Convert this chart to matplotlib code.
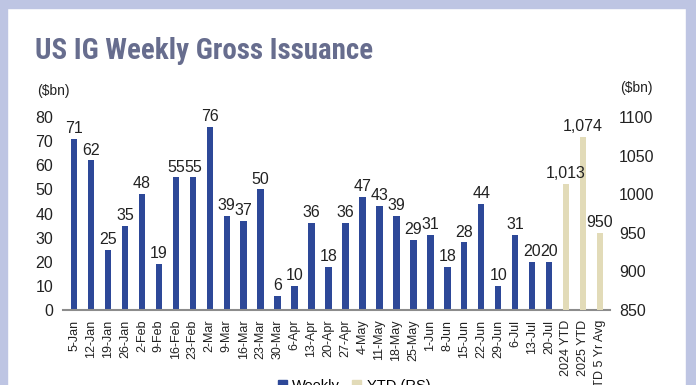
import matplotlib
matplotlib.use("Agg")
import matplotlib.pyplot as plt
from matplotlib.patches import Rectangle, Patch
from matplotlib import font_manager
from matplotlib.font_manager import FontProperties

weeks = ["5-Jan", "12-Jan", "19-Jan", "26-Jan", "2-Feb", "9-Feb", "16-Feb", "23-Feb",
         "2-Mar", "9-Mar", "16-Mar", "23-Mar", "30-Mar", "6-Apr", "13-Apr", "20-Apr",
         "27-Apr", "4-May", "11-May", "18-May", "25-May", "1-Jun", "8-Jun", "15-Jun",
         "22-Jun", "29-Jun", "6-Jul", "13-Jul", "20-Jul"]
weekly = [71, 62, 25, 35, 48, 19, 55, 55, 76, 39, 37, 50, 6, 10, 36, 18, 36, 47, 43,
          39, 29, 31, 18, 28, 44, 10, 31, 20, 20]
ytd_labels = ["2024 YTD", "2025 YTD", "YTD 5 Yr Avg"]
ytd = [1013, 1074, 950]

left_ticks = list(range(0, 81, 10))
right_ticks = list(range(850, 1101, 50))

blue = "#2D4898"
tan = "#E2DBB8"
lav = "#BEC5E3"
title_col = "#676D8E"
txt = "#222222"

plt.rcParams["font.family"] = ["Liberation Sans", "DejaVu Sans"]


def pick_condensed():
    best = None
    for f in font_manager.fontManager.ttflist:
        nm = f.name
        st = str(f.stretch)
        narrow = ("Narrow" in nm or "Condensed" in nm or st in ("condensed", "semi-condensed", "extra-condensed"))
        if not narrow:
            continue
        w = f.weight
        try:
            w = int(w)
        except Exception:
            w = 700 if "bold" in str(w).lower() else 400
        if w < 600 or "italic" in str(f.style).lower() or "oblique" in str(f.style).lower():
            continue
        score = 0
        if "Liberation" in nm:
            score = 3
        elif "Roboto" in nm:
            score = 2
        elif "DejaVu" in nm or "Open Sans" in nm or "Noto" in nm:
            score = 1
        if best is None or score > best[0]:
            best = (score, f.fname)
    if best:
        return FontProperties(fname=best[1])
    return FontProperties(family="Liberation Sans", weight="bold")


W, H = 696, 385
fig = plt.figure(figsize=(W / 100, H / 100), dpi=100)
fig.patch.set_facecolor("white")
fig.add_artist(Rectangle((0, 0), 7 / W, 1, transform=fig.transFigure, color=lav, zorder=0))
fig.add_artist(Rectangle((0, 1 - 8 / H), 1, 8 / H, transform=fig.transFigure, color=lav, zorder=0))
fig.add_artist(Rectangle((686 / W, 0), 1 - 686 / W, 1, transform=fig.transFigure, color=lav, zorder=0))

x0, x1 = 63, 610
ytop, ybot = 117, 310
ax = fig.add_axes([x0 / W, 1 - ybot / H, (x1 - x0) / W, (ybot - ytop) / H])
ax.set_facecolor("none")

n = len(weeks)
pos_w = list(range(n))
pos_y = list(range(n, n + len(ytd)))
bw = 0.38
lab_fs = 11.5
b1 = ax.bar(pos_w, weekly, width=bw, color=blue, label="Weekly")
ax.bar_label(b1, labels=[str(v) for v in weekly], padding=2, fontsize=lab_fs, color=txt)
ax.set_ylim(0, 80)
ax.set_yticks(left_ticks)
ax.set_xlim(-0.65, n + len(ytd) - 1 + 0.59)

ax2 = ax.twinx()
b2 = ax2.bar(pos_y, ytd, width=bw, color=tan, label="YTD (RS)")
ax2.bar_label(b2, labels=[f"{v:,}" for v in ytd], padding=2, fontsize=lab_fs, color=txt)
ax2.set_ylim(850, 1100)
ax2.set_yticks(right_ticks)

ax.set_xticks(pos_w + pos_y)
ax.set_xticklabels(weeks + ytd_labels, rotation=90, fontsize=9, color=txt)
for a in (ax, ax2):
    for s in ("top", "left", "right"):
        a.spines[s].set_visible(False)
    a.tick_params(length=0)
ax2.spines["bottom"].set_visible(False)
ax.spines["bottom"].set_color("#8C8C8C")
ax.spines["bottom"].set_linewidth(1.5)
ax.tick_params(axis="y", pad=7, labelsize=11.5, labelcolor=txt)
ax.tick_params(axis="x", pad=7)
ax2.tick_params(axis="y", pad=6.5, labelsize=11.5, labelcolor=txt)

tp = pick_condensed()
tp.set_size(17)
title = fig.text(35 / W, 1 - 59 / H, "US IG Weekly Gross Issuance", fontproperties=tp,
                 color=title_col, va="baseline", ha="left")
fig.canvas.draw()
tw = title.get_window_extent(renderer=fig.canvas.get_renderer()).width
if tw > 0:
    tp.set_size(17 * 338 / tw)
    title.set_fontproperties(tp)

fig.text(37 / W, 1 - 91 / H, "($bn)", fontsize=10, color=txt, va="center", ha="left")
fig.text(620 / W, 1 - 88 / H, "($bn)", fontsize=10, color=txt, va="center", ha="left")

handles = [Patch(color=blue, label="Weekly"), Patch(color=tan, label="YTD (RS)")]
fig.legend(handles=handles, loc="center", bbox_to_anchor=(354 / W, 1 - 386 / H), ncol=2,
           frameon=False, fontsize=10.5, handlelength=0.6, handleheight=0.6,
           columnspacing=0.8, handletextpad=0.4)

fig.savefig("out.png", dpi=100)
